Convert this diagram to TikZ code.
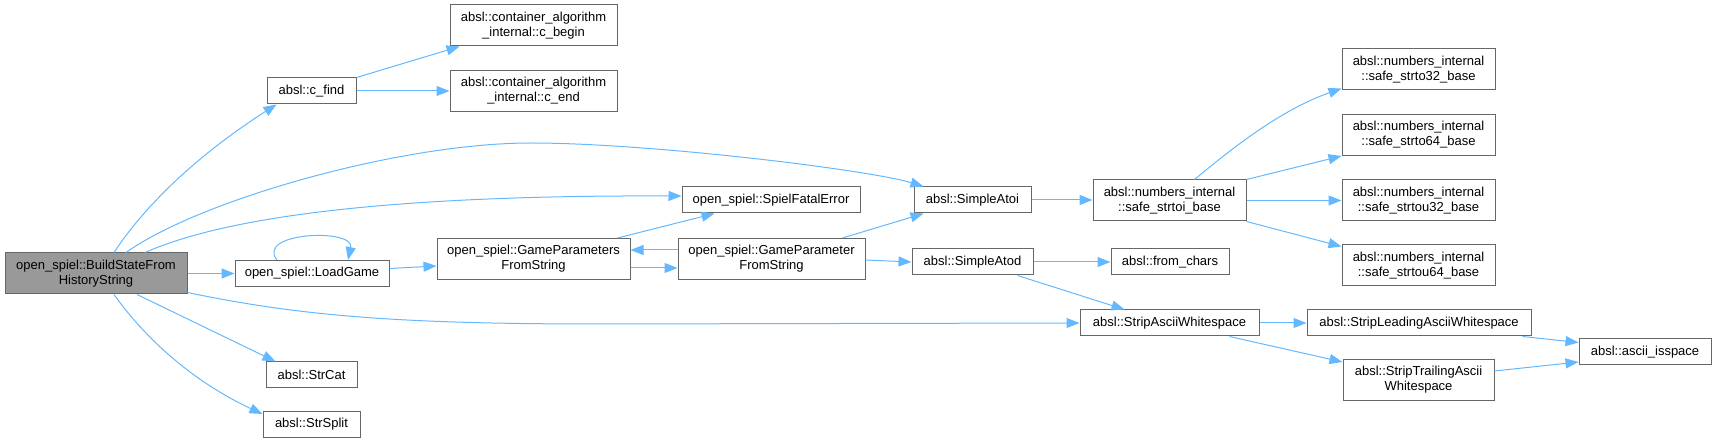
\documentclass[tikz,border=0pt]{standalone}
\usepackage{fontspec}
\setmainfont{Liberation Sans}
\usetikzlibrary{arrows.meta}
\definecolor{edgeblue}{HTML}{63B8FF}
\definecolor{boxline}{HTML}{666666}
\definecolor{rootfill}{HTML}{999999}
\begin{document}
\begin{tikzpicture}[x=1pt,y=-1pt,
  box/.style={draw=boxline, line width=1pt, fill=white, inner sep=0pt, align=center,
    font=\fontsize{13}{15}\selectfont},
  rootbox/.style={box, fill=rootfill},
  edge/.style={draw=edgeblue, line width=1pt, -{Triangle[length=13pt,width=10pt]}}]
\useasboundingbox (0,0) rectangle (1716,443);

\node[rootbox, minimum width=182pt, minimum height=41pt] (build) at (96,273.5) {open\_spiel::BuildStateFrom\\HistoryString};
\node[box, minimum width=89pt, minimum height=26pt] (cfind) at (311.5,91) {absl::c\_find};
\node[box, minimum width=167pt, minimum height=41pt] (cbegin) at (533.5,25.5) {absl::container\_algorithm\\\_internal::c\_begin};
\node[box, minimum width=167pt, minimum height=41pt] (cend) at (533.5,91) {absl::container\_algorithm\\\_internal::c\_end};
\node[box, minimum width=154pt, minimum height=26pt] (loadgame) at (312,273.5) {open\_spiel::LoadGame};
\node[box, minimum width=91pt, minimum height=26pt] (strcat) at (311.5,375) {absl::StrCat};
\node[box, minimum width=97pt, minimum height=26pt] (strsplit) at (311.5,424.5) {absl::StrSplit};
\node[box, minimum width=193pt, minimum height=41pt] (gpsfs) at (533.5,259) {open\_spiel::GameParameters\\FromString};
\node[box, minimum width=178pt, minimum height=26pt] (sfe) at (771,200) {open\_spiel::SpielFatalError};
\node[box, minimum width=187pt, minimum height=41pt] (gpfs) at (771.5,259) {open\_spiel::GameParameter\\FromString};
\node[box, minimum width=117pt, minimum height=26pt] (atoi) at (972.5,200) {absl::SimpleAtoi};
\node[box, minimum width=121pt, minimum height=26pt] (atod) at (972.5,262) {absl::SimpleAtod};
\node[box, minimum width=153pt, minimum height=41pt] (strtoi) at (1169.5,200.5) {absl::numbers\_internal\\::safe\_strtoi\_base};
\node[box, minimum width=118pt, minimum height=26pt] (fromchars) at (1170,262) {absl::from\_chars};
\node[box, minimum width=179pt, minimum height=26pt] (stripascii) at (1169.5,323) {absl::StripAsciiWhitespace};
\node[box, minimum width=153pt, minimum height=41pt] (s32) at (1418.5,69.5) {absl::numbers\_internal\\::safe\_strto32\_base};
\node[box, minimum width=153pt, minimum height=41pt] (s64) at (1418.5,135) {absl::numbers\_internal\\::safe\_strto64\_base};
\node[box, minimum width=153pt, minimum height=41pt] (u32) at (1418.5,200.5) {absl::numbers\_internal\\::safe\_strtou32\_base};
\node[box, minimum width=153pt, minimum height=41pt] (u64) at (1418.5,265.5) {absl::numbers\_internal\\::safe\_strtou64\_base};
\node[box, minimum width=224pt, minimum height=26pt] (leading) at (1419,323) {absl::StripLeadingAsciiWhitespace};
\node[box, minimum width=151pt, minimum height=41pt] (trailing) at (1418.5,380) {absl::StripTrailingAscii\\Whitespace};
\node[box, minimum width=132pt, minimum height=26pt] (isspace) at (1645,352) {absl::ascii\_isspace};

% edges
\draw[edge] ([xshift=18]build.north) .. controls (158,186) and (227,136) .. ([xshift=10]cfind.south west);
\draw[edge] (cfind.north east) -- ([xshift=10]cbegin.south west);
\draw[edge] (cfind.east) -- (cend.west |- cfind.east);
\draw[edge] ([xshift=30]build.north) .. controls (200,200) and (400,143) .. (531,143)
  .. controls (650,143) and (870,170) .. ([xshift=10]atoi.north west);
\draw[edge] ([xshift=49]build.north) .. controls (230,215) and (400,195) .. ([yshift=4]sfe.west);
\draw[edge] (build.east) -- (loadgame.west);
\draw[edge] ([xshift=-35]loadgame.north) .. controls (255,232) and (355,228) .. ([xshift=36]loadgame.north);
\draw[edge] ([yshift=5]loadgame.east) -- ([yshift=-7]gpsfs.west);
\draw[edge] ([yshift=2]build.south east) .. controls (300,316) and (400,324) .. (600,324) -- (stripascii.west);
\draw[edge] ([xshift=41]build.south) -- ([xshift=10]strcat.north west);
\draw[edge] ([xshift=18]build.south) .. controls (150,345) and (200,385) .. ([yshift=-3]strsplit.north west);
\draw[edge] ([xshift=84]gpsfs.north) -- ([xshift=33]sfe.south west);
\draw[edge] ([yshift=-9]gpsfs.east) -- ([yshift=-9]gpfs.west);
\draw[edge] ([yshift=9]gpfs.west) -- ([yshift=9]gpsfs.east);
\draw[edge] ([xshift=71]gpfs.north) -- ([xshift=10]atoi.south west);
\draw[edge] ([yshift=-1]gpfs.east) -- (atod.west);
\draw[edge] (atoi.east) -- (strtoi.west |- atoi.east);
\draw[edge] (atod.east) -- (fromchars.west);
\draw[edge] ([xshift=45]atod.south) -- ([xshift=-45]stripascii.north);
\draw[edge] ([xshift=25]strtoi.north) .. controls (1230,150) and (1280,110) .. ([yshift=2]s32.south west);
\draw[edge] (strtoi.north east) -- (s64.south west);
\draw[edge] (strtoi.east) -- (u32.west);
\draw[edge] (strtoi.south east) -- ([yshift=-2]u64.north west);
\draw[edge] (stripascii.east) -- (leading.west);
\draw[edge] ([xshift=60]stripascii.south) -- ([yshift=-3]trailing.north west);
\draw[edge] ([xshift=-9]leading.south east) -- ([yshift=-4]isspace.north west);
\draw[edge] ([yshift=9]trailing.east) -- ([yshift=-10]isspace.west);
\end{tikzpicture}
\end{document}
